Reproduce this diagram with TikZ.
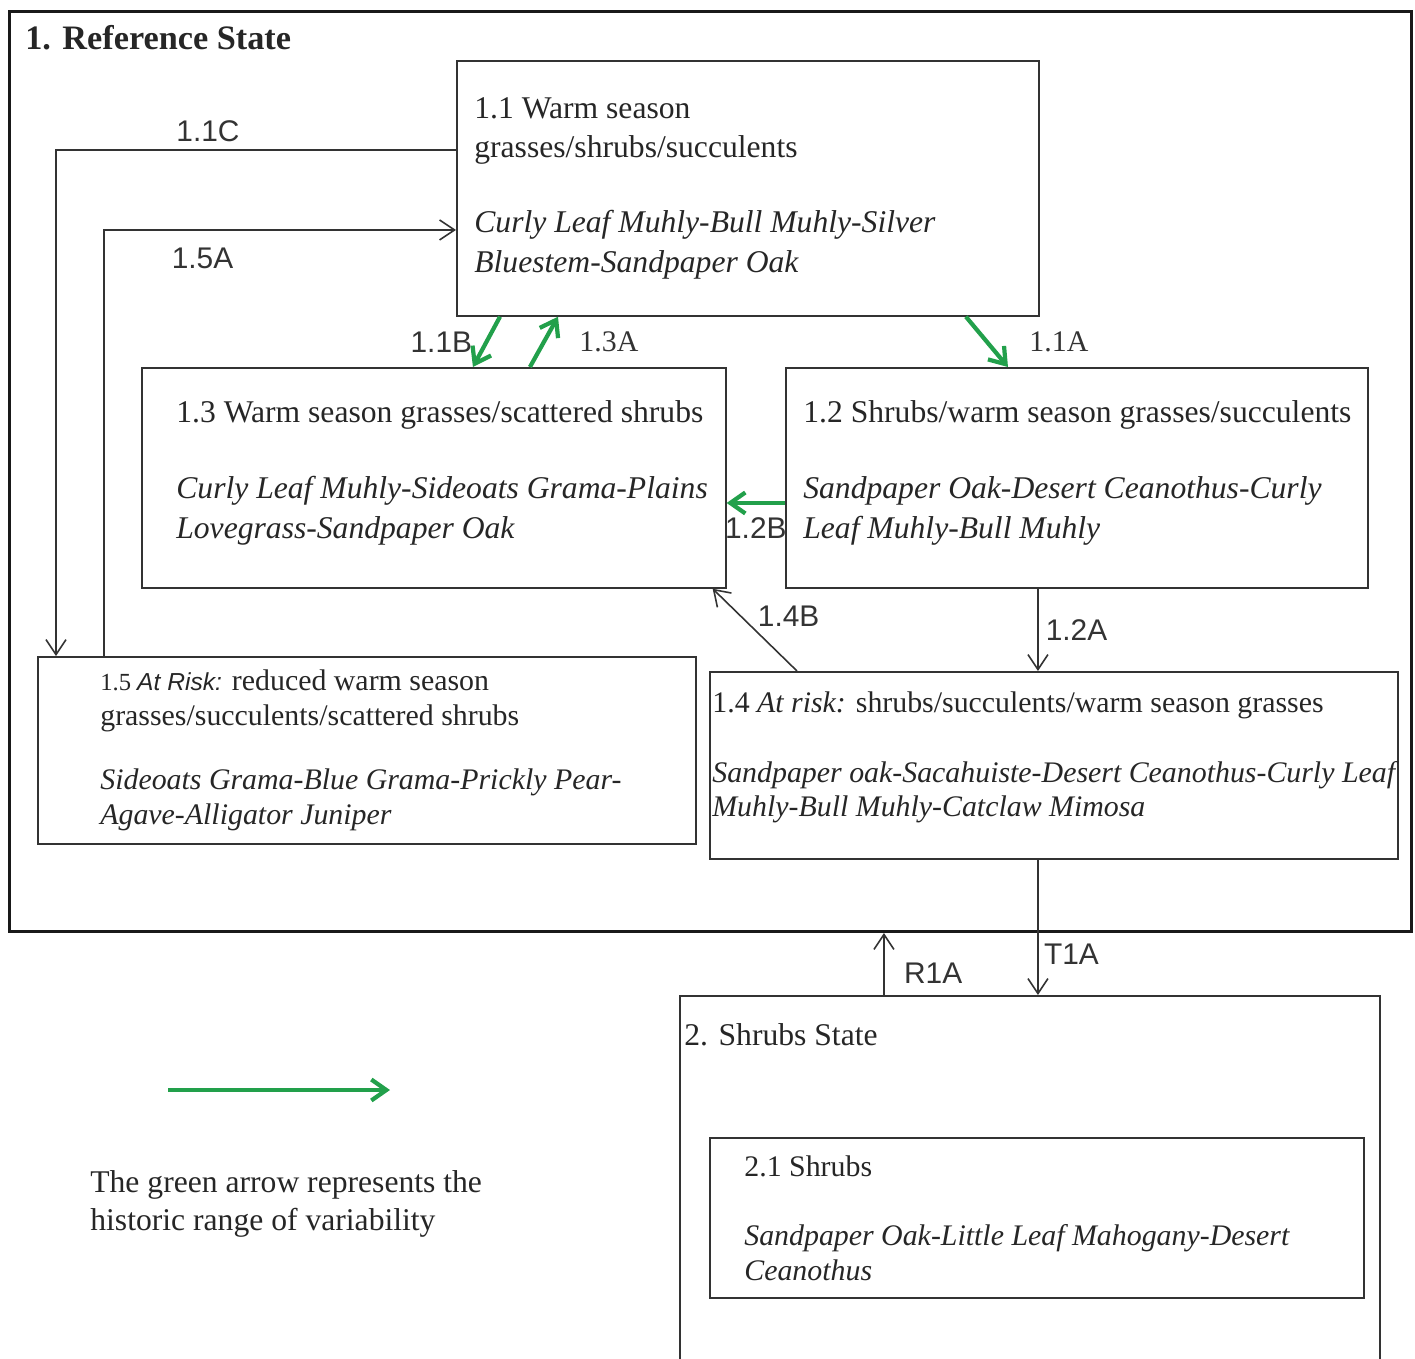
\documentclass[tikz,border=0pt]{standalone}
\usepackage{fontspec}
\setmainfont{Liberation Serif}
\newfontfamily\labelfont{Liberation Sans}
\usetikzlibrary{positioning,arrows.meta,calc}
\definecolor{verde}{HTML}{22A04B}
\definecolor{linea}{HTML}{333333}

\begin{document}
\begin{tikzpicture}[x=0.02cm,y=-0.02cm,
      caja/.style={draw=linea,line width=1pt,anchor=north west,inner sep=0pt},
      texto/.style={align=left,inner sep=0pt,text=black!85,font=\fontsize{18}{22.7}\selectfont},
      textochico/.style={align=left,inner sep=0pt,text=black!85,font=\fontsize{17}{19.6}\selectfont},
      etiq/.style={font=\labelfont\fontsize{17}{20}\selectfont,text=black!80,inner sep=1pt},
      etiqs/.style={font=\fontsize{17}{20}\selectfont,text=black!80,inner sep=1pt},
      flecha/.style={-{Straight Barb[length=0.3cm,width=0.4cm]},line width=0.9pt,linea},
      flechaverde/.style={-{Straight Barb[length=0.3cm,width=0.42cm]},line width=2.4pt,verde}]
    \useasboundingbox (0,0) rectangle (1415,1358);
    \clip (0,0) rectangle (1415,1358);
    % states
    \node[caja,minimum width=28.04cm,minimum height=18.4cm,line width=1.8pt,draw=black!90] (ref) at (8,10) {};
    \node[anchor=west,inner sep=0pt,text=black!85,font=\bfseries\fontsize{19.5}{22}\selectfont] (tref) at (25,38) {1. Reference State};
    \node[caja,minimum width=14cm,minimum height=8cm] (s2) at (679,995) {};
    \node[texto,anchor=west] (ts2) at (684,1035) {2. Shrubs State};
    % communities
    \node[caja,minimum width=11.64cm,minimum height=5.1cm] (s11) at (456,60) {};
    \node[texto,right=0.36cm of s11.west] (t11) {1.1 Warm season\\grasses/shrubs/succulents\\[20pt]
      \textit{Curly Leaf Muhly-Bull  Muhly-Silver}\\\textit{Bluestem-Sandpaper Oak}};
    \node[caja,minimum width=11.68cm,minimum height=4.4cm] (s13) at (141,367) {};
    \node[texto,right=0.7cm of s13.west,yshift=0.1cm] (t13) {1.3 Warm season grasses/scattered shrubs\\[21pt]
      \textit{Curly Leaf Muhly-Sideoats Grama-Plains}\\\textit{Lovegrass-Sandpaper Oak}};
    \node[caja,minimum width=11.64cm,minimum height=4.4cm] (s12) at (785,367) {};
    \node[texto,right=0.36cm of s12.west,yshift=0.1cm] (t12) {1.2 Shrubs/warm season grasses/succulents\\[21pt]
      \textit{Sandpaper Oak-Desert Ceanothus-Curly}\\\textit{Leaf Muhly-Bull Muhly}};
    \node[caja,minimum width=13.16cm,minimum height=3.74cm] (s15) at (37,656) {};
    \node[textochico,right=1.26cm of s15.west] (t15) {{\fontsize{14}{16}\selectfont 1.5 {\labelfont\itshape At Risk:}} reduced warm season\\
      grasses/succulents/scattered shrubs\\[17pt]
      \textit{Sideoats Grama-Blue Grama-Prickly Pear-}\\\textit{Agave-Alligator Juniper}};
    \node[caja,minimum width=13.76cm,minimum height=3.74cm] (s14) at (709,671) {};
    \node[textochico,right=0.06cm of s14.west,yshift=0.16cm] (t14) {1.4 \textit{At risk:} shrubs/succulents/warm season grasses\\[20pt]
      \textit{Sandpaper oak-Sacahuiste-Desert Ceanothus-Curly Leaf}\\\textit{Muhly-Bull Muhly-Catclaw Mimosa}};
    \node[caja,minimum width=13.08cm,minimum height=3.2cm] (s21) at (709,1137) {};
    \node[textochico,right=0.7cm of s21.west] (t21) {2.1 Shrubs\\[20pt]
      \textit{Sandpaper Oak-Little Leaf Mahogany-Desert}\\\textit{Ceanothus}};
    % pathways
    \draw[flecha] ([yshift=-1.8cm]s11.north west) -| node[etiq,pos=0.31,above=3pt] {1.1C} ([xshift=0.38cm]s15.north west);
    \draw[flecha] ([xshift=1.34cm]s15.north west) |- node[etiq,pos=0.64,below=9pt] {1.5A} ([yshift=-3.4cm]s11.north west);
    \draw[flechaverde] ([xshift=0.88cm]s11.south west) -- node[etiq,left=6pt] {1.1B} ([xshift=6.64cm]s13.north west);
    \draw[flechaverde] ([xshift=7.78cm]s13.north west) -- node[etiqs,right=18pt] {1.3A} ([xshift=2.04cm]s11.south west);
    \draw[flechaverde] ([xshift=10.2cm]s11.south west) -- node[etiqs,right=22pt] {1.1A} ([xshift=4.46cm]s12.north west);
    \draw[flechaverde] ([yshift=-2.72cm]s12.north west) -- node[etiq,below=6pt] {1.2B} ([yshift=-2.72cm]s13.north east);
    \draw[flecha] ([xshift=1.76cm]s14.north west) -- node[etiq,pos=0.66,right=8pt] {1.4B} ([xshift=-0.28cm]s13.south east);
    \draw[flecha] ([xshift=5.06cm]s12.south west) coordinate (c12) -- node[etiq,right=3pt] {1.2A} (c12 |- s14.north);
    \draw[flecha] ([xshift=6.58cm]s14.south west) coordinate (c14) -- node[etiq,pos=0.7,right=2pt] {T1A} (c14 |- s2.north);
    \draw[flecha] ([xshift=4.1cm]s2.north west) coordinate (c2) -- node[etiq,pos=0.35,right=10pt] {R1A} (c2 |- ref.south);
    % legend
    \coordinate (lg1) at (168,1090);
    \coordinate (lg2) at (390,1090);
    \draw[flechaverde] (lg1) -- (lg2);
    \node[texto,anchor=west,font=\fontsize{18}{22}\selectfont] (tlg) at (90,1204) {The green arrow represents the\\historic range of variability};
\end{tikzpicture}
\end{document}
